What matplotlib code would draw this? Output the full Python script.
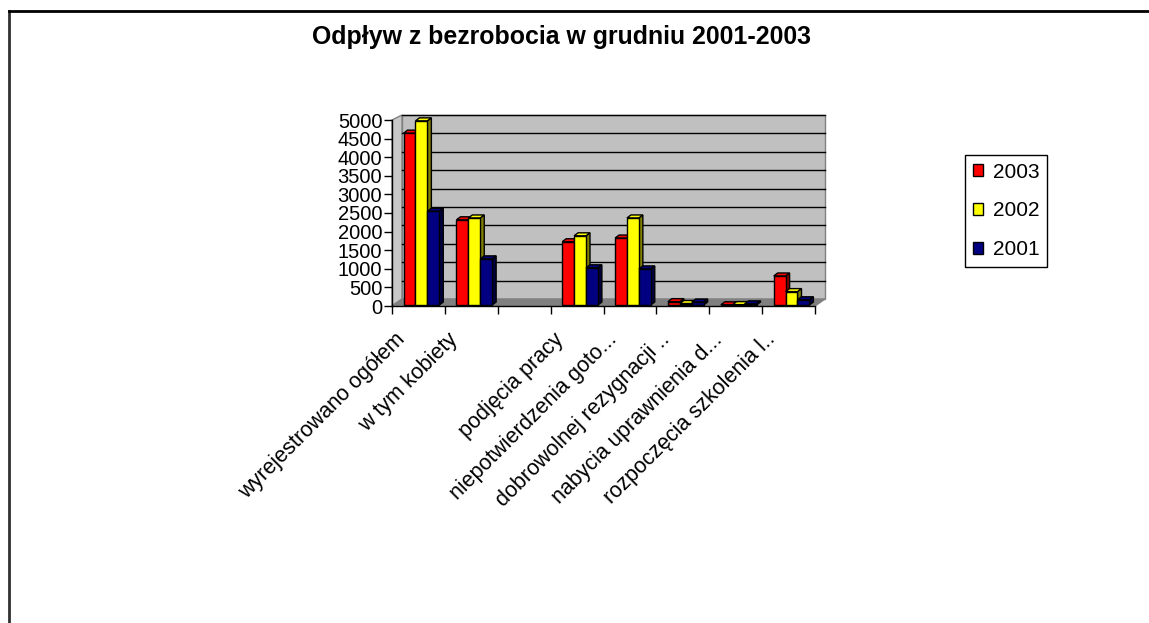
import matplotlib
matplotlib.use("Agg")
import matplotlib.pyplot as plt
from matplotlib.patches import Polygon, Patch
from matplotlib.lines import Line2D
from matplotlib.transforms import offset_copy

plt.rcParams['font.family'] = ['Liberation Sans', 'DejaVu Sans']

categories = ["wyrejestrowano ogółem", "w tym kobiety", "", "podjęcia pracy",
              "niepotwierdzenia goto...", "dobrowolnej rezygnacji ..",
              "nabycia uprawnienia d...", "rozpoczęcia szkolenia l.."]
series_names = ["2003", "2002", "2001"]
v2003 = [4620, 2290, None, 1700, 1800, 90, 5, 780]
v2002 = [4950, 2340, None, 1860, 2340, 40, 10, 360]
v2001 = [2520, 1240, None, 1000, 970, 80, 30, 140]
front_colors = ["#FF0000", "#FFFF00", "#000080"]
side_colors = ["#800000", "#808000", "#000040"]
yticks = list(range(0, 5001, 500))

W, H = 1149, 623
fig = plt.figure(figsize=(W / 100, H / 100), dpi=100)

# axes = front plane in pixels
L, R, B, T = 392, 815, 306, 120
ax = fig.add_axes([L / W, 1 - B / H, (R - L) / W, (B - T) / H])
n = len(categories)
ax.set_xlim(0, n)
ax.set_ylim(0, 5000)
for s in ax.spines.values():
    s.set_visible(False)

pxx = (R - L) / n          # px per category
pxy = (B - T) / 5000.0     # px per unit

def off(dxp, dyp):
    return dxp / pxx, dyp / pxy

# walls
DX, DY = off(10, 7)
top_back = (B - 115) / pxy
scale_b = (top_back - DY) / 5000.0
back = Polygon([(DX, DY), (n + DX, DY), (n + DX, top_back), (DX, top_back)],
               closed=True, facecolor="#C0C0C0", edgecolor="#808080", lw=1, clip_on=False, zorder=1)
ax.add_patch(back)
side = Polygon([(0, 0), (DX, DY), (DX, top_back), (0, 5000)],
               closed=True, facecolor="#C8C8C8", edgecolor="#808080", lw=1, clip_on=False, zorder=1)
ax.add_patch(side)
floor = Polygon([(0, 0), (n, 0), (n + DX, DY), (DX, DY)],
                closed=True, facecolor="#808080", edgecolor="#808080", lw=1, clip_on=False, zorder=1)
ax.add_patch(floor)
for v in yticks[1:]:
    yb = DY + v * scale_b
    ax.plot([DX, n + DX], [yb, yb], color="black", lw=1, clip_on=False, zorder=2)

# bars
values = [v2003, v2002, v2001]
bw = 0.225
start = 0.2
fdx, fdy = off(1, 1)
bdx, bdy = off(4, 3)
for c in range(n):
    for i in range(3):
        v = values[i][c]
        if v is None:
            continue
        x0 = c + start + i * bw + fdx
        x1 = x0 + bw
        y0 = fdy
        y1 = fdy + v
        front = Polygon([(x0, y0), (x1, y0), (x1, y1), (x0, y1)], closed=True,
                        facecolor=front_colors[i], edgecolor="black", lw=1, clip_on=False, zorder=3)
        topf = Polygon([(x0, y1), (x1, y1), (x1 + bdx, y1 + bdy), (x0 + bdx, y1 + bdy)], closed=True,
                       facecolor=front_colors[i], edgecolor="black", lw=1, clip_on=False, zorder=3)
        sidef = Polygon([(x1, y0), (x1 + bdx, y0 + bdy), (x1 + bdx, y1 + bdy), (x1, y1)], closed=True,
                        facecolor=side_colors[i], edgecolor="black", lw=1, clip_on=False, zorder=3)
        ax.add_patch(sidef)
        ax.add_patch(topf)
        ax.add_patch(front)

# axes lines
ax.plot([0, 0], [0, 5000], color="black", lw=1, clip_on=False, zorder=4)
ax.plot([0, n], [0, 0], color="black", lw=1, clip_on=False, zorder=4)

ax.set_yticks(yticks)
ax.set_yticklabels([str(v) for v in yticks], fontsize=14.5)
ax.tick_params(axis='y', length=6, width=1, pad=1, direction='out')
ax.set_xticks(range(n + 1))
ax.set_xticklabels([])
ax.tick_params(axis='x', length=6, width=1, direction='out')

lab_tr = offset_copy(ax.transData, fig=fig, x=-24, y=-23, units='dots')
for c, name in enumerate(categories):
    ax.text(c + 0.5, 0, name, transform=lab_tr, rotation=45, ha='right', va='top',
            rotation_mode='anchor', fontsize=15.5, clip_on=False)

fig.text(562 / W, 1 - 37 / H, "Odpływ z bezrobocia w grudniu 2001-2003",
         ha='center', va='center', fontsize=17.9, fontweight='bold')

handles = [Patch(facecolor=front_colors[i], edgecolor='black', lw=1) for i in range(3)]
leg = fig.legend(handles, series_names, loc='upper left',
                 bbox_to_anchor=(965 / W, 1 - 155 / H), fontsize=15,
                 handlelength=0.5, handleheight=0.5, handletextpad=0.5,
                 labelspacing=0.95, borderpad=0.36, borderaxespad=0, fancybox=False,
                 edgecolor='black', framealpha=1)
leg.get_frame().set_linewidth(1)

# outer frame (left and top)
fig.add_artist(Line2D([9 / W, 9 / W], [0, 1 - 11 / H], color='#303030', lw=2, transform=fig.transFigure))
fig.add_artist(Line2D([9 / W, 1], [1 - 11 / H, 1 - 11 / H], color='black', lw=2, transform=fig.transFigure))

fig.savefig("out.png", dpi=100, facecolor='white')
